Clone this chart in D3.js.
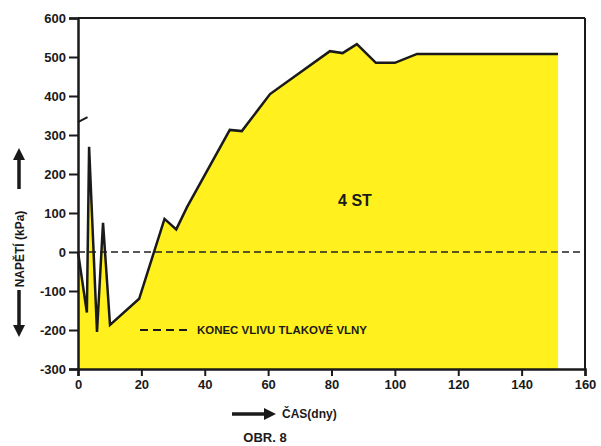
<!DOCTYPE html>
<html><head><meta charset="utf-8">
<script src="https://cdn.jsdelivr.net/npm/d3@7"></script>
<style>body{margin:0;background:#fff}svg{display:block}text{font-family:"Liberation Sans",Arial,sans-serif}</style>
</head><body>
<script>
const days   = [0, 2.8, 3.5, 6, 7.9, 10.1, 19.3, 27.3, 31, 34.4, 47.9, 51.7, 60.6, 79.5, 83.5, 88, 94, 100, 107, 151.5];
const values = [0, -155, 270, -205, 75, -187, -120, 85, 58, 115, 313, 310, 405, 515, 510, 533, 485, 485, 508, 508];
const fragDays = [0, 3];
const fragValues = [333, 346];
const xTicks = [0, 20, 40, 60, 80, 100, 120, 140, 160];
const yTicks = [-300, -200, -100, 0, 100, 200, 300, 400, 500, 600];
const seriesLabel = "4 ST";
const legendLabel = "KONEC VLIVU TLAKOVÉ VLNY";
const yTitle = "NAPĚTÍ (kPa)";
const xTitle = "ČAS(dny)";
const figTitle = "OBR. 8";

const W = 601, H = 446;
const svg = d3.select("body").append("svg").attr("width", W).attr("height", H);
const x = d3.scaleLinear().domain([0, 160]).range([78, 585]);
const y = d3.scaleLinear().domain([-300, 600]).range([369, 18]);
const pts = days.map((d, i) => [d, values[i]]);

svg.append("path").datum(pts)
  .attr("d", d3.area().x(d => x(d[0])).y0(y(-300)).y1(d => y(d[1])))
  .attr("fill", "#fff01e");

svg.append("line").attr("x1", x(0)).attr("x2", x(160)).attr("y1", y(0)).attr("y2", y(0))
  .attr("stroke", "#222").attr("stroke-width", 1.6).attr("stroke-dasharray", "7,4");

svg.append("path").datum(pts)
  .attr("d", d3.line().x(d => x(d[0])).y(d => y(d[1])))
  .attr("fill", "none").attr("stroke", "#1a1a1a").attr("stroke-width", 2.5).attr("stroke-linejoin", "miter");

svg.append("path").datum(fragDays.map((d, i) => [d, fragValues[i]]))
  .attr("d", d3.line().x(d => x(d[0])).y(d => y(d[1])))
  .attr("fill", "none").attr("stroke", "#1a1a1a").attr("stroke-width", 2);

svg.append("line").attr("x1", x(0)).attr("x2", x(160)).attr("y1", y(600)).attr("y2", y(600)).attr("stroke", "#1a1a1a").attr("stroke-width", 2);
svg.append("line").attr("x1", x(160)).attr("x2", x(160)).attr("y1", y(600)).attr("y2", y(-300)).attr("stroke", "#1a1a1a").attr("stroke-width", 2);

const yAxis = svg.append("g").attr("transform", `translate(${x(0)},0)`)
  .call(d3.axisLeft(y).tickValues(yTicks).tickSize(9).tickPadding(3).tickFormat(d => d < 0 ? "-" + Math.abs(d) : d));
const xAxis = svg.append("g").attr("transform", `translate(0,${y(-300)})`)
  .call(d3.axisBottom(x).tickValues(xTicks).tickSize(7).tickPadding(4));
[yAxis, xAxis].forEach(g => {
  g.select(".domain").attr("stroke", "#1a1a1a").attr("stroke-width", 2.5);
  g.selectAll(".tick line").attr("stroke", "#1a1a1a").attr("stroke-width", 2);
  g.selectAll("text").attr("fill", "#1a1a1a").attr("font-size", 13).attr("font-weight", "bold");
});

svg.append("text").attr("x", 355).attr("y", 206).attr("text-anchor", "middle")
  .attr("font-size", 16).attr("font-weight", "bold").attr("fill", "#1a1a1a").text(seriesLabel);

svg.append("line").attr("x1", 140).attr("x2", 189).attr("y1", 330).attr("y2", 330)
  .attr("stroke", "#1a1a1a").attr("stroke-width", 2).attr("stroke-dasharray", "8,5");
svg.append("text").attr("x", 197).attr("y", 334).attr("font-size", 10).attr("font-weight", "bold")
  .attr("fill", "#1a1a1a").attr("textLength", 170).attr("lengthAdjust", "spacingAndGlyphs").text(legendLabel);

svg.append("text").attr("transform", "translate(24,249) rotate(-90)").attr("text-anchor", "middle")
  .attr("font-size", 12).attr("font-weight", "bold").attr("fill", "#1a1a1a").text(yTitle);
function arrow(x1, y1, x2, y2) {
  const ang = Math.atan2(y2 - y1, x2 - x1);
  const L = 12, Wd = 6;
  const bx = x2 - L * Math.cos(ang), by = y2 - L * Math.sin(ang);
  svg.append("line").attr("x1", x1).attr("y1", y1).attr("x2", bx).attr("y2", by).attr("stroke", "#1a1a1a").attr("stroke-width", 3.5);
  svg.append("path").attr("d", `M${x2},${y2}L${bx - Wd * Math.sin(ang)},${by + Wd * Math.cos(ang)}L${bx + Wd * Math.sin(ang)},${by - Wd * Math.cos(ang)}Z`).attr("fill", "#1a1a1a");
}
arrow(19, 189, 19, 148);
arrow(19, 290, 19, 337);
arrow(232, 414, 276, 414);
svg.append("text").attr("x", 282).attr("y", 418).attr("font-size", 12).attr("font-weight", "bold").attr("fill", "#1a1a1a").text(xTitle);
svg.append("text").attr("x", 265).attr("y", 442).attr("text-anchor", "middle").attr("font-size", 13).attr("font-weight", "bold").attr("fill", "#1a1a1a").text(figTitle);
</script>
</body></html>
